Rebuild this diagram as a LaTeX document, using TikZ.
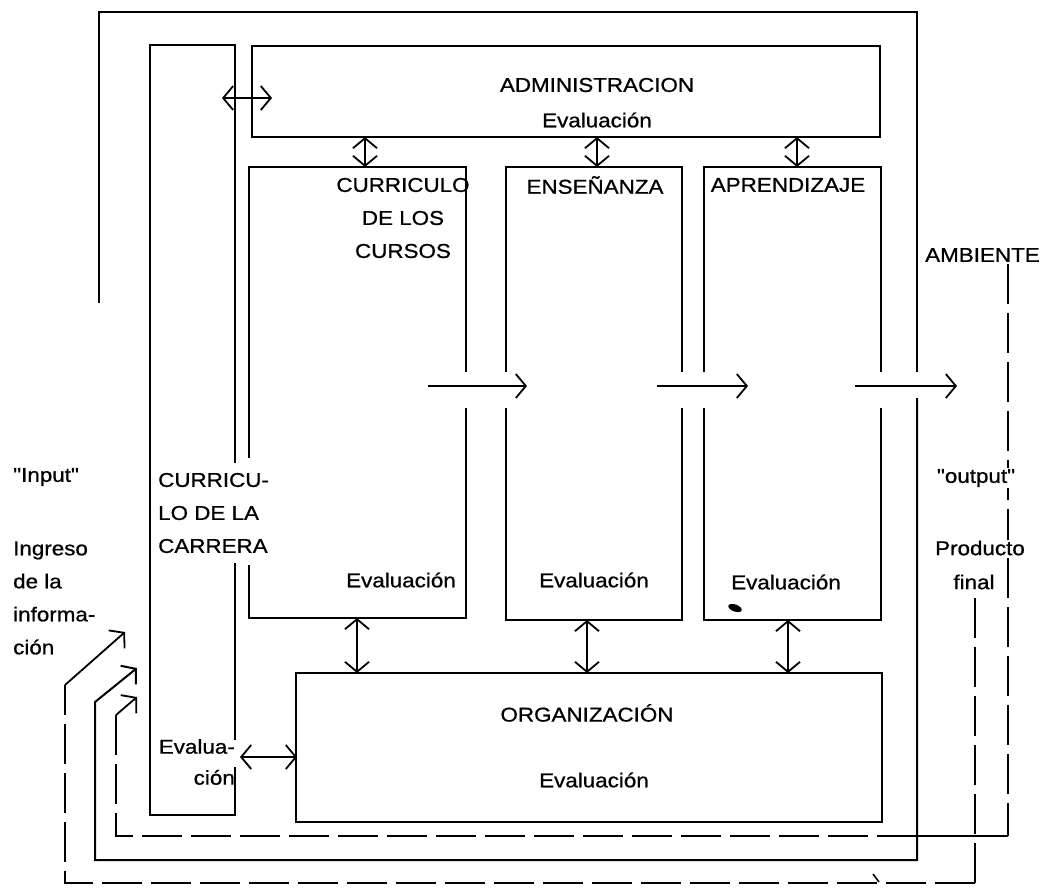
\documentclass[tikz,border=0pt]{standalone}
\usepackage{fontspec}
\setmainfont{Liberation Sans}[FakeStretch=1.12, FakeBold=0.8]
\newfontfamily\qf{Liberation Sans}[FakeStretch=1.12, FakeBold=0.8]
\newcommand{\qq}{{\qf"}}
\usetikzlibrary{arrows.meta}
\begin{document}
\begin{tikzpicture}[x=1pt,y=-1pt]
\tikzset{
  ln/.style={line width=2pt, line join=miter},
  dsh/.style={line width=2pt, dash pattern=on 40pt off 9pt},
  dbl/.style={line width=1.8pt, {Straight Barb[length=10pt,width=24pt]}-{Straight Barb[length=10pt,width=24pt]}},
  fwd/.style={line width=1.8pt, -{Straight Barb[length=10pt,width=24pt]}},
  lbl/.style={font=\fontsize{20}{33}\selectfont, inner sep=1pt},
}
\useasboundingbox (0,0) rectangle (1040,892);
\fill[white] (0,0) rectangle (1040,892);

% ---------- texts ----------
\node[lbl] (admT) at (597,85) {ADMINISTRACION};
\node[lbl] (admE) at (597,120) {Evaluación};
\node[lbl, align=center] (b1T) at (403,218) {CURRICULO\\DE LOS\\CURSOS};
\node[lbl] (b2T) at (595,185) {ENSEÑANZA};
\node[lbl] (b3T) at (788,185) {APRENDIZAJE};
\node[lbl] (b1E) at (401,580) {Evaluación};
\node[lbl] (b2E) at (594,580) {Evaluación};
\node[lbl] (b3E) at (786,582) {Evaluación};
\node[lbl] (orgT) at (587,713) {ORGANIZACIÓN};
\node[lbl] (orgE) at (594,780) {Evaluación};
\node[lbl, align=left, anchor=west] (ccT) at (157,513) {CURRICU-\\LO DE LA\\CARRERA};
\node[lbl, align=right, anchor=east, font=\fontsize{20}{31}\selectfont] (ccE) at (236,762) {Evalua-\\ción};
\node[lbl, anchor=west] (inp) at (12,477) {\qq Input\qq};
\node[lbl, align=left, anchor=west] (ingr) at (12,598) {Ingreso\\de la\\informa-\\ción};
\node[lbl, anchor=west] (amb) at (924,255) {AMBIENTE};

% ---------- boxes ----------
% outer frame (ambiente), open on the left
\coordinate (fbB) at (137,668);
\draw[ln] (99,303) -- (99,12) -- (917,12) -- (917,372);
\draw[fwd, line width=2pt, line join=miter] (917,398) -- (917,860) -- (95,860) -- (95,702) -- (fbB);
% curriculo de la carrera
\draw[ln] (235,463) -- (235,45) -- (150,45) -- (150,815) -- (235,815) -- (235,767);
\draw[ln] (235,563) -- (235,740);
% administracion
\draw[ln] (252,46) rectangle (880,137);
% curriculo de los cursos
\draw[ln] (249,458) -- (249,167) -- (466,167) -- (466,372);
\draw[ln] (249,565) -- (249,618) -- (466,618) -- (466,408);
% ensenanza
\draw[ln] (506,372) -- (506,167) -- (682,167) -- (682,372);
\draw[ln] (506,408) -- (506,620) -- (682,620) -- (682,408);
% aprendizaje
\draw[ln] (704,372) -- (704,167) -- (881,167) -- (881,372);
\draw[ln] (704,408) -- (704,620) -- (881,620) -- (881,408);
% organizacion
\draw[ln] (296,673) rectangle (882,822);

% ink smudge
\fill[black, rotate around={-20:(735,608)}] (735,608) ellipse (7pt and 3.5pt);

% ---------- connectors ----------
\coordinate (ccA) at (222,98);   \coordinate (admW) at (272,98);
\draw[dbl] (ccA) -- (admW);
\coordinate (adm1) at (365,137); \coordinate (b1n) at (365,167);
\coordinate (adm2) at (597,137); \coordinate (b2n) at (597,167);
\coordinate (adm3) at (797,137); \coordinate (b3n) at (797,167);
\draw[dbl] (adm1) -- (b1n);
\draw[dbl] (adm2) -- (b2n);
\draw[dbl] (adm3) -- (b3n);
\coordinate (b1s) at (357,618); \coordinate (org1) at (357,673);
\coordinate (b2s) at (587,620); \coordinate (org2) at (587,673);
\coordinate (b3s) at (788,620); \coordinate (org3) at (788,673);
\draw[dbl] (b1s) -- (org1);
\draw[dbl] (b2s) -- (org2);
\draw[dbl] (b3s) -- (org3);
\coordinate (ccO) at (240,757); \coordinate (orgW) at (297,757);
\draw[dbl] (ccO) -- (orgW);

% flow arrows
\coordinate (f1a) at (428,386); \coordinate (f1b) at (527,386);
\coordinate (f2a) at (657,386); \coordinate (f2b) at (748,386);
\coordinate (f3a) at (855,386); \coordinate (f3b) at (957,386);
\draw[fwd] (f1a) -- (f1b);
\draw[fwd] (f2a) -- (f2b);
\draw[fwd] (f3a) -- (f3b);

% ---------- feedback loops ----------
% inner dashed loop (from ambiente)
\coordinate (ambS) at (1008,264);
\coordinate (cA1) at (1008,836); \coordinate (cA2) at (917,836);
\coordinate (cA3) at (116,836);  \coordinate (cA4) at (116,715);
\coordinate (fbA) at (137,697);
\draw[dsh] (ambS) -- (cA1);
\draw[ln] (cA1) -- (cA2);
\draw[dsh] (cA2) -- (cA3) -- (cA4);
\draw[fwd] (cA4) -- (fbA);
% outer dashed loop (from producto final)
\coordinate (finS) at (975,598);
\coordinate (cC0) at (975,890);
\coordinate (cC1) at (975,883); \coordinate (cC2) at (65,883);
\coordinate (cC3) at (65,685);  \coordinate (fbC) at (125,632);
\draw[dsh] (finS) -- (cC0);
\draw[dsh] (cC1) -- (cC2) -- (cC3);
\draw[fwd] (cC3) -- (fbC);
\draw[line width=1.6pt] (873,874) -- (879,882);

% labels that interrupt the dashed line
\node[lbl, fill=white] (outp) at (976,478) {\qq output\qq};
\node[lbl, fill=white] (prod) at (980,548) {Producto};
\node[lbl] (fin) at (974,582) {final};
\end{tikzpicture}
\end{document}
